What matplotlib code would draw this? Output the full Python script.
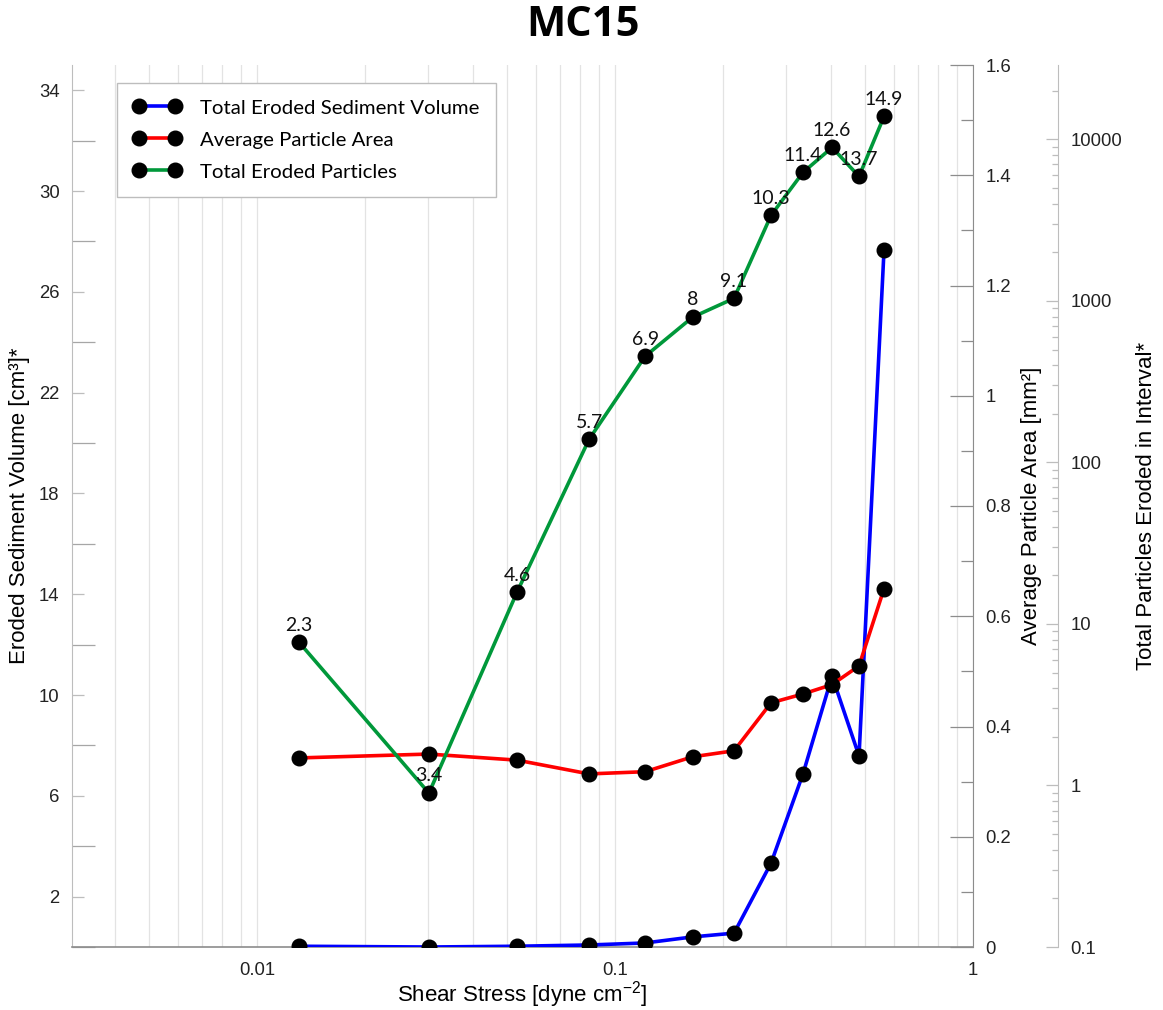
import matplotlib
matplotlib.use("Agg")
import matplotlib.pyplot as plt
from matplotlib.lines import Line2D
from matplotlib.ticker import FixedLocator, FuncFormatter, LogLocator, NullFormatter

plt.rcParams['font.family'] = ['Liberation Sans', 'DejaVu Sans']
plt.rcParams['mathtext.fontset'] = 'custom'
plt.rcParams['mathtext.rm'] = 'Liberation Sans'
plt.rcParams['mathtext.it'] = 'Liberation Sans:italic'

# Shear stress steps [dyne cm^-2]
shear_stress = [0.0131, 0.0302, 0.0532, 0.0846, 0.1213, 0.1646, 0.2150,
                0.2728, 0.3350, 0.4039, 0.4804, 0.5642]
# Total eroded sediment volume [cm^3]
sediment_volume = [0.03, 0.0, 0.03, 0.08, 0.16, 0.40, 0.55, 3.33, 6.87,
                   10.75, 7.58, 27.66]
# Average particle area [mm^2]
particle_area = [0.343, 0.350, 0.339, 0.314, 0.318, 0.345, 0.356, 0.443,
                 0.459, 0.476, 0.510, 0.650]
# Total particles eroded in each interval
particles_eroded = [7.7, 0.897, 15.7, 139, 454, 793, 1038, 3390, 6250,
                    8920, 5900, 13880]
# Point labels
point_labels = ['2.3', '3.4', '4.6', '5.7', '6.9', '8', '9.1', '10.3',
                '11.4', '12.6', '13.7', '14.9']

blue = '#0000FF'
red = '#FF0000'
green = '#00983A'
line_kw = dict(lw=2.6, marker='o', ms=10.5, mfc='black', mec='black')
tick_size = 13.3
label_size = 16

fig = plt.figure(figsize=(11.63, 10.10), dpi=100)
ax = fig.add_axes([72 / 1163, 63 / 1010, 901 / 1163, 882 / 1010])
ax2 = ax.twinx()
ax3 = ax.twinx()

# --- x axis (log) ---
ax.set_xscale('log')
ax.set_xlim(0.00304, 1.0)
ax.xaxis.set_major_locator(FixedLocator([0.01, 0.1, 1]))
ax.xaxis.set_major_formatter(FuncFormatter(lambda v, p: f'{v:g}'))
ax.xaxis.set_minor_locator(LogLocator(base=10, subs=range(2, 10), numticks=20))
ax.xaxis.set_minor_formatter(NullFormatter())
ax.tick_params(axis='x', which='both', length=0, pad=11, labelsize=tick_size,
               colors='#222222')
ax.grid(True, axis='x', which='both', color='#e3e3e3', lw=0.9)
ax.set_axisbelow(True)

# --- left axis: sediment volume ---
ax.set_ylim(0, 35)
ax.yaxis.set_major_locator(FixedLocator([2, 6, 10, 14, 18, 22, 26, 30, 34]))
ax.yaxis.set_minor_locator(FixedLocator([0, 4, 8, 12, 16, 20, 24, 28, 32]))
ax.tick_params(axis='y', which='major', direction='in', length=8.5,
               width=0.9, color='#bdbdbd', labelsize=tick_size,
               labelcolor='#222222', pad=9)
ax.tick_params(axis='y', which='minor', direction='in', length=16.5,
               width=0.9, color='#a6a6a6')
for side in ('top', 'right'):
    ax.spines[side].set_visible(False)
ax.spines['left'].set_color('#bdbdbd')
ax.spines['bottom'].set_color('#8c8c8c')
ax.spines['bottom'].set_linewidth(1.2)

# --- first right axis: particle area ---
ax2.set_ylim(0, 1.6)
ax2.yaxis.set_major_locator(FixedLocator([0, 0.2, 0.4, 0.6, 0.8, 1.0, 1.2, 1.4, 1.6]))
ax2.yaxis.set_major_formatter(FuncFormatter(lambda v, p: f'{v:g}'))
ax2.yaxis.set_minor_locator(FixedLocator([0.1, 0.3, 0.5, 0.7, 0.9, 1.1, 1.3, 1.5]))
ax2.tick_params(axis='y', which='major', direction='in', length=16.5,
                width=0.9, color='#8c8c8c', labelsize=tick_size,
                labelcolor='#222222', pad=9)
ax2.tick_params(axis='y', which='minor', direction='in', length=8.5,
                width=0.9, color='#8c8c8c')
for side in ('top', 'left', 'bottom'):
    ax2.spines[side].set_visible(False)
ax2.spines['right'].set_color('#8c8c8c')

# --- second right axis: particle counts (log) ---
ax3.set_yscale('log')
ax3.set_ylim(0.1, 28900)
ax3.spines['right'].set_position(('axes', (1058 - 72) / 901))
ax3.yaxis.set_major_locator(FixedLocator([0.1, 1, 10, 100, 1000, 10000]))
ax3.yaxis.set_major_formatter(FuncFormatter(lambda v, p: f'{v:g}'))
ax3.yaxis.set_minor_locator(LogLocator(base=10, subs=range(2, 10), numticks=20))
ax3.yaxis.set_minor_formatter(NullFormatter())
ax3.tick_params(axis='y', which='major', direction='in', length=8.5,
                width=0.9, color='#bdbdbd', labelsize=tick_size,
                labelcolor='#222222', pad=9)
ax3.tick_params(axis='y', which='minor', direction='in', length=4.5,
                width=0.9, color='#bdbdbd')
for side in ('top', 'left', 'bottom'):
    ax3.spines[side].set_visible(False)
ax3.spines['right'].set_color('#bdbdbd')

# --- data ---
ax.plot(shear_stress, sediment_volume, color=blue, zorder=3, **line_kw)
ax2.plot(shear_stress, particle_area, color=red, zorder=3, **line_kw)
ax3.plot(shear_stress, particles_eroded, color=green, zorder=3, **line_kw)
for x, y, lab in zip(shear_stress, particles_eroded, point_labels):
    ax3.annotate(lab, (x, y), xytext=(0, 8.5), textcoords='offset points',
                 ha='center', va='baseline', fontsize=14, family='Lato',
                 color='#111111', zorder=4)

# --- labels ---
ax.set_xlabel('Shear Stress [dyne cm$^{-2}$]', fontsize=label_size, va='center')
ax.xaxis.set_label_coords(0.5, (947 - 995) / 882)
ax.set_ylabel('Eroded Sediment Volume [cm³]*', fontsize=label_size, va='center')
ax.yaxis.set_label_coords((20 - 72) / 901, 0.5)
ax2.set_ylabel('Average Particle Area [mm²]', fontsize=label_size, va='center')
ax2.yaxis.set_label_coords((1031 - 72) / 901, 0.5)
ax3.set_ylabel('Total Particles Eroded in Interval*', fontsize=label_size, va='center')
ax3.yaxis.set_label_coords((1146 - 72) / 901, 0.5)

fig.text(583 / 1163, 1 - 25 / 1010, 'MC15', ha='center', va='center',
         fontsize=30, fontweight='bold', family='Open Sans')

# --- legend ---
handles = [Line2D([0], [0], color=c, **line_kw) for c in (blue, red, green)]
leg = ax3.legend(handles, ['Total Eroded Sediment Volume', 'Average Particle Area',
                           'Total Eroded Particles'],
                 loc='upper left', bbox_to_anchor=((117 - 72) / 901, (947 - 83) / 882),
                 numpoints=2, handlelength=2.35, handletextpad=0.93,
                 labelspacing=0.72, borderpad=0.8, borderaxespad=0,
                 fancybox=False, framealpha=1, edgecolor='#bdbdbd',
                 prop={'family': 'Lato', 'size': 14.7})
leg.get_frame().set_linewidth(1.0)

fig.savefig('out.png', dpi=100)
